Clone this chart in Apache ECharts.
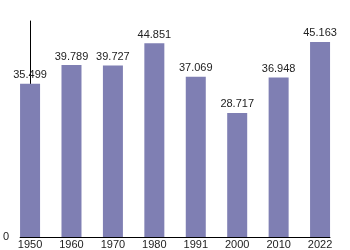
<!DOCTYPE html>
<html>
<head>
<meta charset="utf-8">
<script src="https://cdn.jsdelivr.net/npm/echarts@6/dist/echarts.min.js"></script>
<style>html,body{margin:0;padding:0;background:#fff}#c{width:350px;height:250px}</style>
</head>
<body>
<div id="c"></div>
<script>
const years = ['1950','1960','1970','1980','1991','2000','2010','2022'];
const values = [35.499, 39.789, 39.727, 44.851, 37.069, 28.717, 36.948, 45.163];
const yTicks = [0];

const chart = echarts.init(document.getElementById('c'), null, {renderer: 'canvas'});
const font = 'Liberation Sans, Arial, sans-serif';
chart.setOption({
  animation: false,
  backgroundColor: '#fff',
  grid: {left: 20, right: 20, top: 21, bottom: 13, containLabel: false},
  xAxis: {
    type: 'value', min: -0.24, max: 7.24,
    axisLine: {show: true, lineStyle: {color: '#000', width: 1}},
    axisTick: {show: false},
    splitLine: {show: false},
    axisLabel: {
      customValues: years.map((y, i) => i),
      formatter: v => years[Math.round(v)] || '',
      color: '#222', fontSize: 11, fontFamily: font, margin: 2
    }
  },
  yAxis: {
    type: 'value', min: 0, max: 50,
    axisLine: {show: true, lineStyle: {color: '#000', width: 1}},
    axisTick: {show: false},
    splitLine: {show: false},
    axisLabel: {
      customValues: yTicks,
      color: '#222', fontSize: 11, fontFamily: font, margin: 11
    }
  },
  series: [{
    type: 'bar',
    barWidth: 20,
    data: values.map((v, i) => [i, v]),
    itemStyle: {color: '#7f7fb3'},
    label: {
      show: true, position: 'top', distance: 3,
      color: '#222', fontSize: 11, fontFamily: font,
      formatter: p => p.value[1].toFixed(3)
    }
  }]
});
</script>
</body>
</html>
